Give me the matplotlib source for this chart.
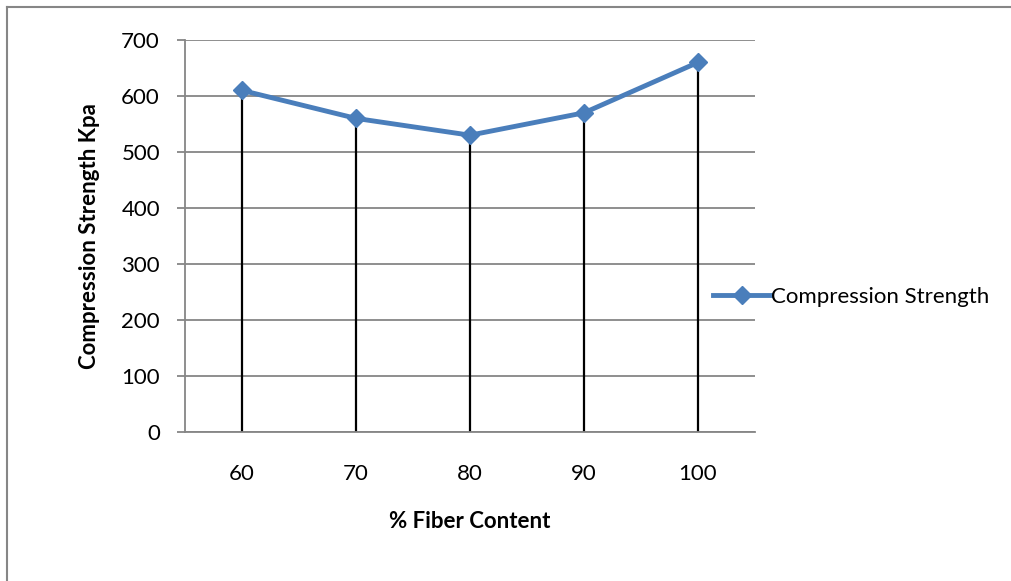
import matplotlib.pyplot as plt
from matplotlib.lines import Line2D

fiber = [60, 70, 80, 90, 100]
strength = [610, 560, 530, 570, 660]
y_ticks = [0, 100, 200, 300, 400, 500, 600, 700]

plt.rcParams['font.family'] = ['Lato', 'DejaVu Sans']

blue = '#4a7ebb'
grey = '#868686'
fs = 16

fig = plt.figure(figsize=(10.11, 5.81), dpi=100)
ax = fig.add_axes([185 / 1011, 149 / 581, 570 / 1011, 392 / 581])

pos = list(range(len(fiber)))
# drop lines from each point to the axis
ax.vlines(pos, 0, strength, color='black', lw=1.6, zorder=2)
ax.plot(pos, strength, color=blue, lw=3.5, marker='D', ms=9.5,
        label='Compression Strength', zorder=3)

ax.set_xlim(-0.5, len(fiber) - 0.5)
ax.set_ylim(0, 700)
ax.set_yticks(y_ticks)
ax.set_xticks(pos)
ax.set_xticklabels([str(v) for v in fiber])
ax.yaxis.grid(True, color=grey, lw=1.3)
ax.set_axisbelow(True)

for s in ['top', 'right']:
    ax.spines[s].set_visible(False)
for s in ['left', 'bottom']:
    ax.spines[s].set_color(grey)
    ax.spines[s].set_linewidth(1.3)

ax.tick_params(axis='y', length=6, width=1.3, color=grey, labelsize=fs, pad=12)
ax.tick_params(axis='x', length=0, labelsize=fs, pad=23)

ax.set_xlabel('% Fiber Content', fontsize=fs, fontweight='bold', va='center')
ax.xaxis.set_label_coords(0.5, (581 - 521 - 149) / 392)
ax.set_ylabel('Compression Strength Kpa', fontsize=fs, fontweight='bold',
              va='center', ha='center')
ax.yaxis.set_label_coords((90 - 185) / 570, 0.5)

ax.legend(loc='center left', bbox_to_anchor=(0.926, 0.344), frameon=False,
          fontsize=fs, handlelength=2.6, handletextpad=0.0, borderaxespad=0,
          borderpad=0)

# outer chart border (only left and top visible)
fig.add_artist(Line2D([7 / 1011, 7 / 1011], [0, 1 - 7 / 581], color=grey, lw=1.5,
                      transform=fig.transFigure))
fig.add_artist(Line2D([7 / 1011, 1], [1 - 7 / 581, 1 - 7 / 581], color=grey, lw=1.5,
                      transform=fig.transFigure))

fig.savefig('out.png', dpi=100)
